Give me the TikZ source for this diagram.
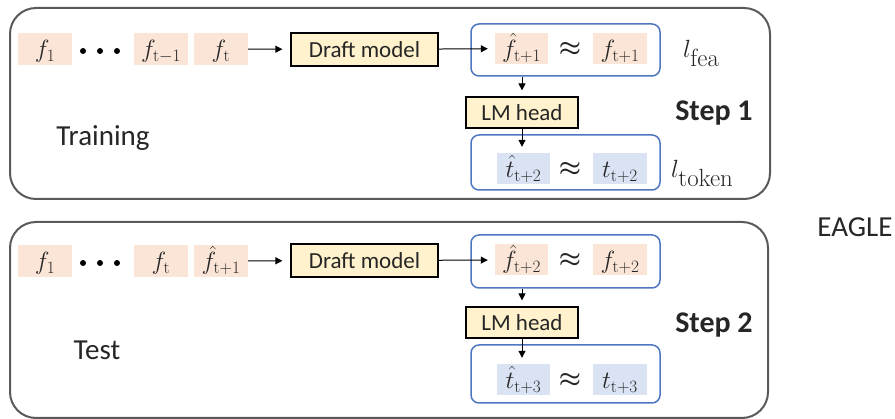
\documentclass[tikz,border=0pt]{standalone}
\usepackage[no-math]{fontspec}
\setmainfont{Carlito}
\usetikzlibrary{arrows.meta}
\definecolor{featc}{HTML}{FBE5D6}
\definecolor{tokc}{HTML}{DAE3F3}
\definecolor{blockc}{HTML}{FFF2CC}
\definecolor{framec}{HTML}{4F76C0}
\definecolor{outerc}{HTML}{5A5A5A}
\definecolor{inkc}{HTML}{262626}

\begin{document}
\begin{tikzpicture}[x=1pt,y=-1pt,
  every node/.style={text=inkc},
  stage/.style={draw=outerc, line width=2pt, rounded corners=26pt},
  cell/.style={minimum height=32pt, minimum width=54pt, inner sep=0pt,
    text height=20pt, text depth=2pt, font=\fontsize{25}{27}\selectfont},
  featbox/.style={cell, fill=featc},
  tokbox/.style={cell, fill=tokc},
  block/.style={draw=black, line width=1.2pt, fill=blockc, inner sep=0pt,
    font=\fontsize{23}{25}\selectfont},
  group/.style={draw=framec, line width=1.5pt, rounded corners=8pt,
    minimum width=189pt, inner sep=0pt},
  approx/.style={font=\fontsize{28}{30}\selectfont\boldmath, inner sep=0pt},
  loss/.style={font=\fontsize{36}{38}\selectfont, inner sep=0pt, anchor=base west},
  label/.style={font=\fontsize{29}{31}\selectfont, inner sep=0pt},
  steplabel/.style={font=\fontsize{30}{32}\selectfont\bfseries, inner sep=0pt},
  arr/.style={-{Triangle[length=7pt,width=7pt]}, line width=1pt, draw=black},
  dot/.style={fill=black, draw=none}
]
\useasboundingbox (0,0) rectangle (895,419);

% ---------- Training stage ----------
\draw[stage] (10,8) rectangle (770,199);

\node[featbox] (a1) at (45,49) {$f_{\mathrm{1}}$};
\fill[dot] (83,51) circle (3pt) (100,51) circle (3pt) (117,51) circle (3pt);
\node[featbox] (a2) at (161,49) {$f_{\mathrm{t-1}}$};
\node[featbox] (a3) at (221,49) {$f_{\mathrm{t}}$};
\node[block, minimum width=147pt, minimum height=33pt] (ad) at (364.5,49.5) {Draft model};

\node[group, minimum height=52pt] (au) at (565.5,50) {};
\node[featbox, minimum width=53pt, minimum height=31pt] (ah) at (521.5,48.5) {$\hat{f}_{\mathrm{t+1}}$};
\node[approx] (aq1) at (570,49) {$\approx$};
\node[featbox, minimum height=31pt] (af) at (620,48.5) {$f_{\mathrm{t+1}}$};
\node[loss] (al1) at (683,58) {$l_{\mathrm{fea}}$};

\node[block, minimum width=112pt, minimum height=31pt] (am) at (522,112.5) {LM head};

\node[group, minimum height=55pt] (ab) at (565.5,162.5) {};
\node[tokbox, minimum width=53pt, minimum height=31pt] (at) at (523.5,168.5) {$\hat{t}_{\mathrm{t+2}}$};
\node[approx] (aq2) at (570,169) {$\approx$};
\node[tokbox, minimum height=31pt] (ag) at (620,168.5) {$t_{\mathrm{t+2}}$};
\node[loss] (al2) at (671,178) {$l_{\mathrm{token}}$};

\node[steplabel] (as) at (714,113) {Step 1};
\node[label] (an) at (103,138) {Training};

\draw[arr, shorten >=8pt] (a3) -- (ad);
\draw[arr, shorten >=7pt] (ad) -- (ah);
\draw[arr, shorten >=6pt] (am.north |- au.south) -- (am.north);
\draw[arr, shorten >=6pt] (am.south) -- (am.south |- at.north);

% ---------- Test stage ----------
\draw[stage] (10,222) rectangle (768,418);

\node[featbox] (b1) at (45,261) {$f_{\mathrm{1}}$};
\fill[dot] (83,263) circle (3pt) (100,263) circle (3pt) (117,263) circle (3pt);
\node[featbox] (b2) at (161,261) {$f_{\mathrm{t}}$};
\node[featbox] (b3) at (221,261) {$\hat{f}_{\mathrm{t+1}}$};
\node[block, minimum width=147pt, minimum height=33pt] (bd) at (364.5,260.5) {Draft model};

\node[group, minimum height=53pt] (bu) at (565.5,261.5) {};
\node[featbox, minimum width=53pt, minimum height=31pt] (bh) at (521.5,260) {$\hat{f}_{\mathrm{t+2}}$};
\node[approx] (bq1) at (570,260.5) {$\approx$};
\node[featbox, minimum height=31pt] (bf) at (620,260) {$f_{\mathrm{t+2}}$};

\node[block, minimum width=112pt, minimum height=31pt] (bm) at (522,322.5) {LM head};

\node[group, minimum height=58pt] (bb) at (565.5,374) {};
\node[tokbox, minimum width=53pt, minimum height=31pt] (bt) at (523.5,379.5) {$\hat{t}_{\mathrm{t+3}}$};
\node[approx] (bq2) at (570,380) {$\approx$};
\node[tokbox, minimum height=31pt] (bg) at (620,379.5) {$t_{\mathrm{t+3}}$};

\node[steplabel] (bs) at (714,325) {Step 2};
\node[label] (bn) at (97,350) {Test};

\draw[arr, shorten >=8pt] (b3) -- (bd);
\draw[arr, shorten >=7pt] (bd) -- (bh);
\draw[arr, shorten >=6pt] (bm.north |- bu.south) -- (bm.north);
\draw[arr, shorten >=6pt] (bm.south) -- (bm.south |- bt.north);

\node[label] (eg) at (855,227) {EAGLE};
\end{tikzpicture}
\end{document}
